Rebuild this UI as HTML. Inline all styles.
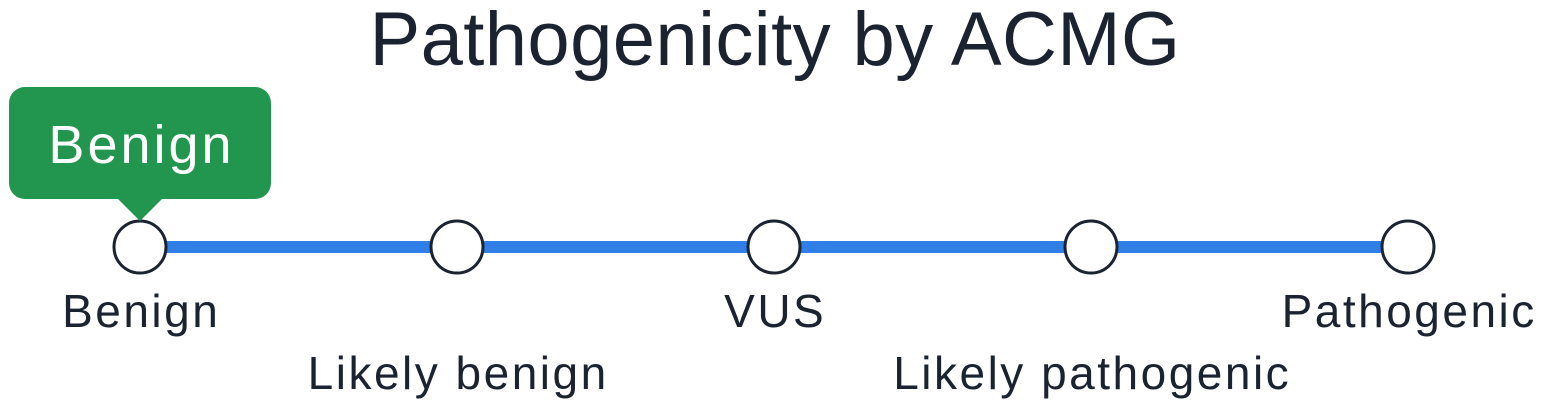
<!DOCTYPE html>
<html><head><meta charset="utf-8"><style>
html,body{margin:0;padding:0;background:#fff;width:1543px;height:408px;overflow:hidden}
svg text{font-family:"Liberation Sans",sans-serif;fill:#1b2230}
</style></head><body>
<svg width="1543" height="408">
<text x="775" y="65" text-anchor="middle" font-size="76" letter-spacing="0.4">Pathogenicity by ACMG</text>
<g id="g"></g>
</svg>
<script>
const categories=["Benign","Likely benign","VUS","Likely pathogenic","Pathogenic"];
const labelRow=[0,1,0,1,0];
const selected=[0];
const ns="http://www.w3.org/2000/svg";
const g=document.getElementById('g');
const x0=140,x1=1408,cy=247;
function xs(i){return x0+(x1-x0)*i/(categories.length-1);}
function mk(t,a){const e=document.createElementNS(ns,t);for(const k in a)e.setAttribute(k,a[k]);g.appendChild(e);return e;}
const line=mk('line',{x1:xs(0),x2:xs(categories.length-1),y1:cy,y2:cy,stroke:'#2f7fe6','stroke-width':12});


categories.forEach((c,i)=>{
  const ci=mk('circle',{cx:xs(i),cy:cy,r:26,fill:'#fff',stroke:'#1b2230','stroke-width':3});
  
  
  const t=mk('text',{x:xs(i)+1.2,y:labelRow[i]?389:327,'text-anchor':'middle','font-size':46,'letter-spacing':2.5});
  t.textContent=c;
  
  
});
selected.forEach(i=>{
  const cx=xs(i);
  const r=mk('rect',{x:cx-131,y:87,width:262,height:112,rx:16,fill:'#22964f'});
  
  
  const p=mk('path',{d:`M${cx-22} 199 L${cx} 221 L${cx+22} 199 Z`,fill:'#22964f'});
  
  
  const t=mk('text',{x:cx+1.5,y:163,'text-anchor':'middle','font-size':54,'letter-spacing':3,style:'fill:#fff'});
  t.textContent=categories[i];
  
  
});
</script>
</body></html>
